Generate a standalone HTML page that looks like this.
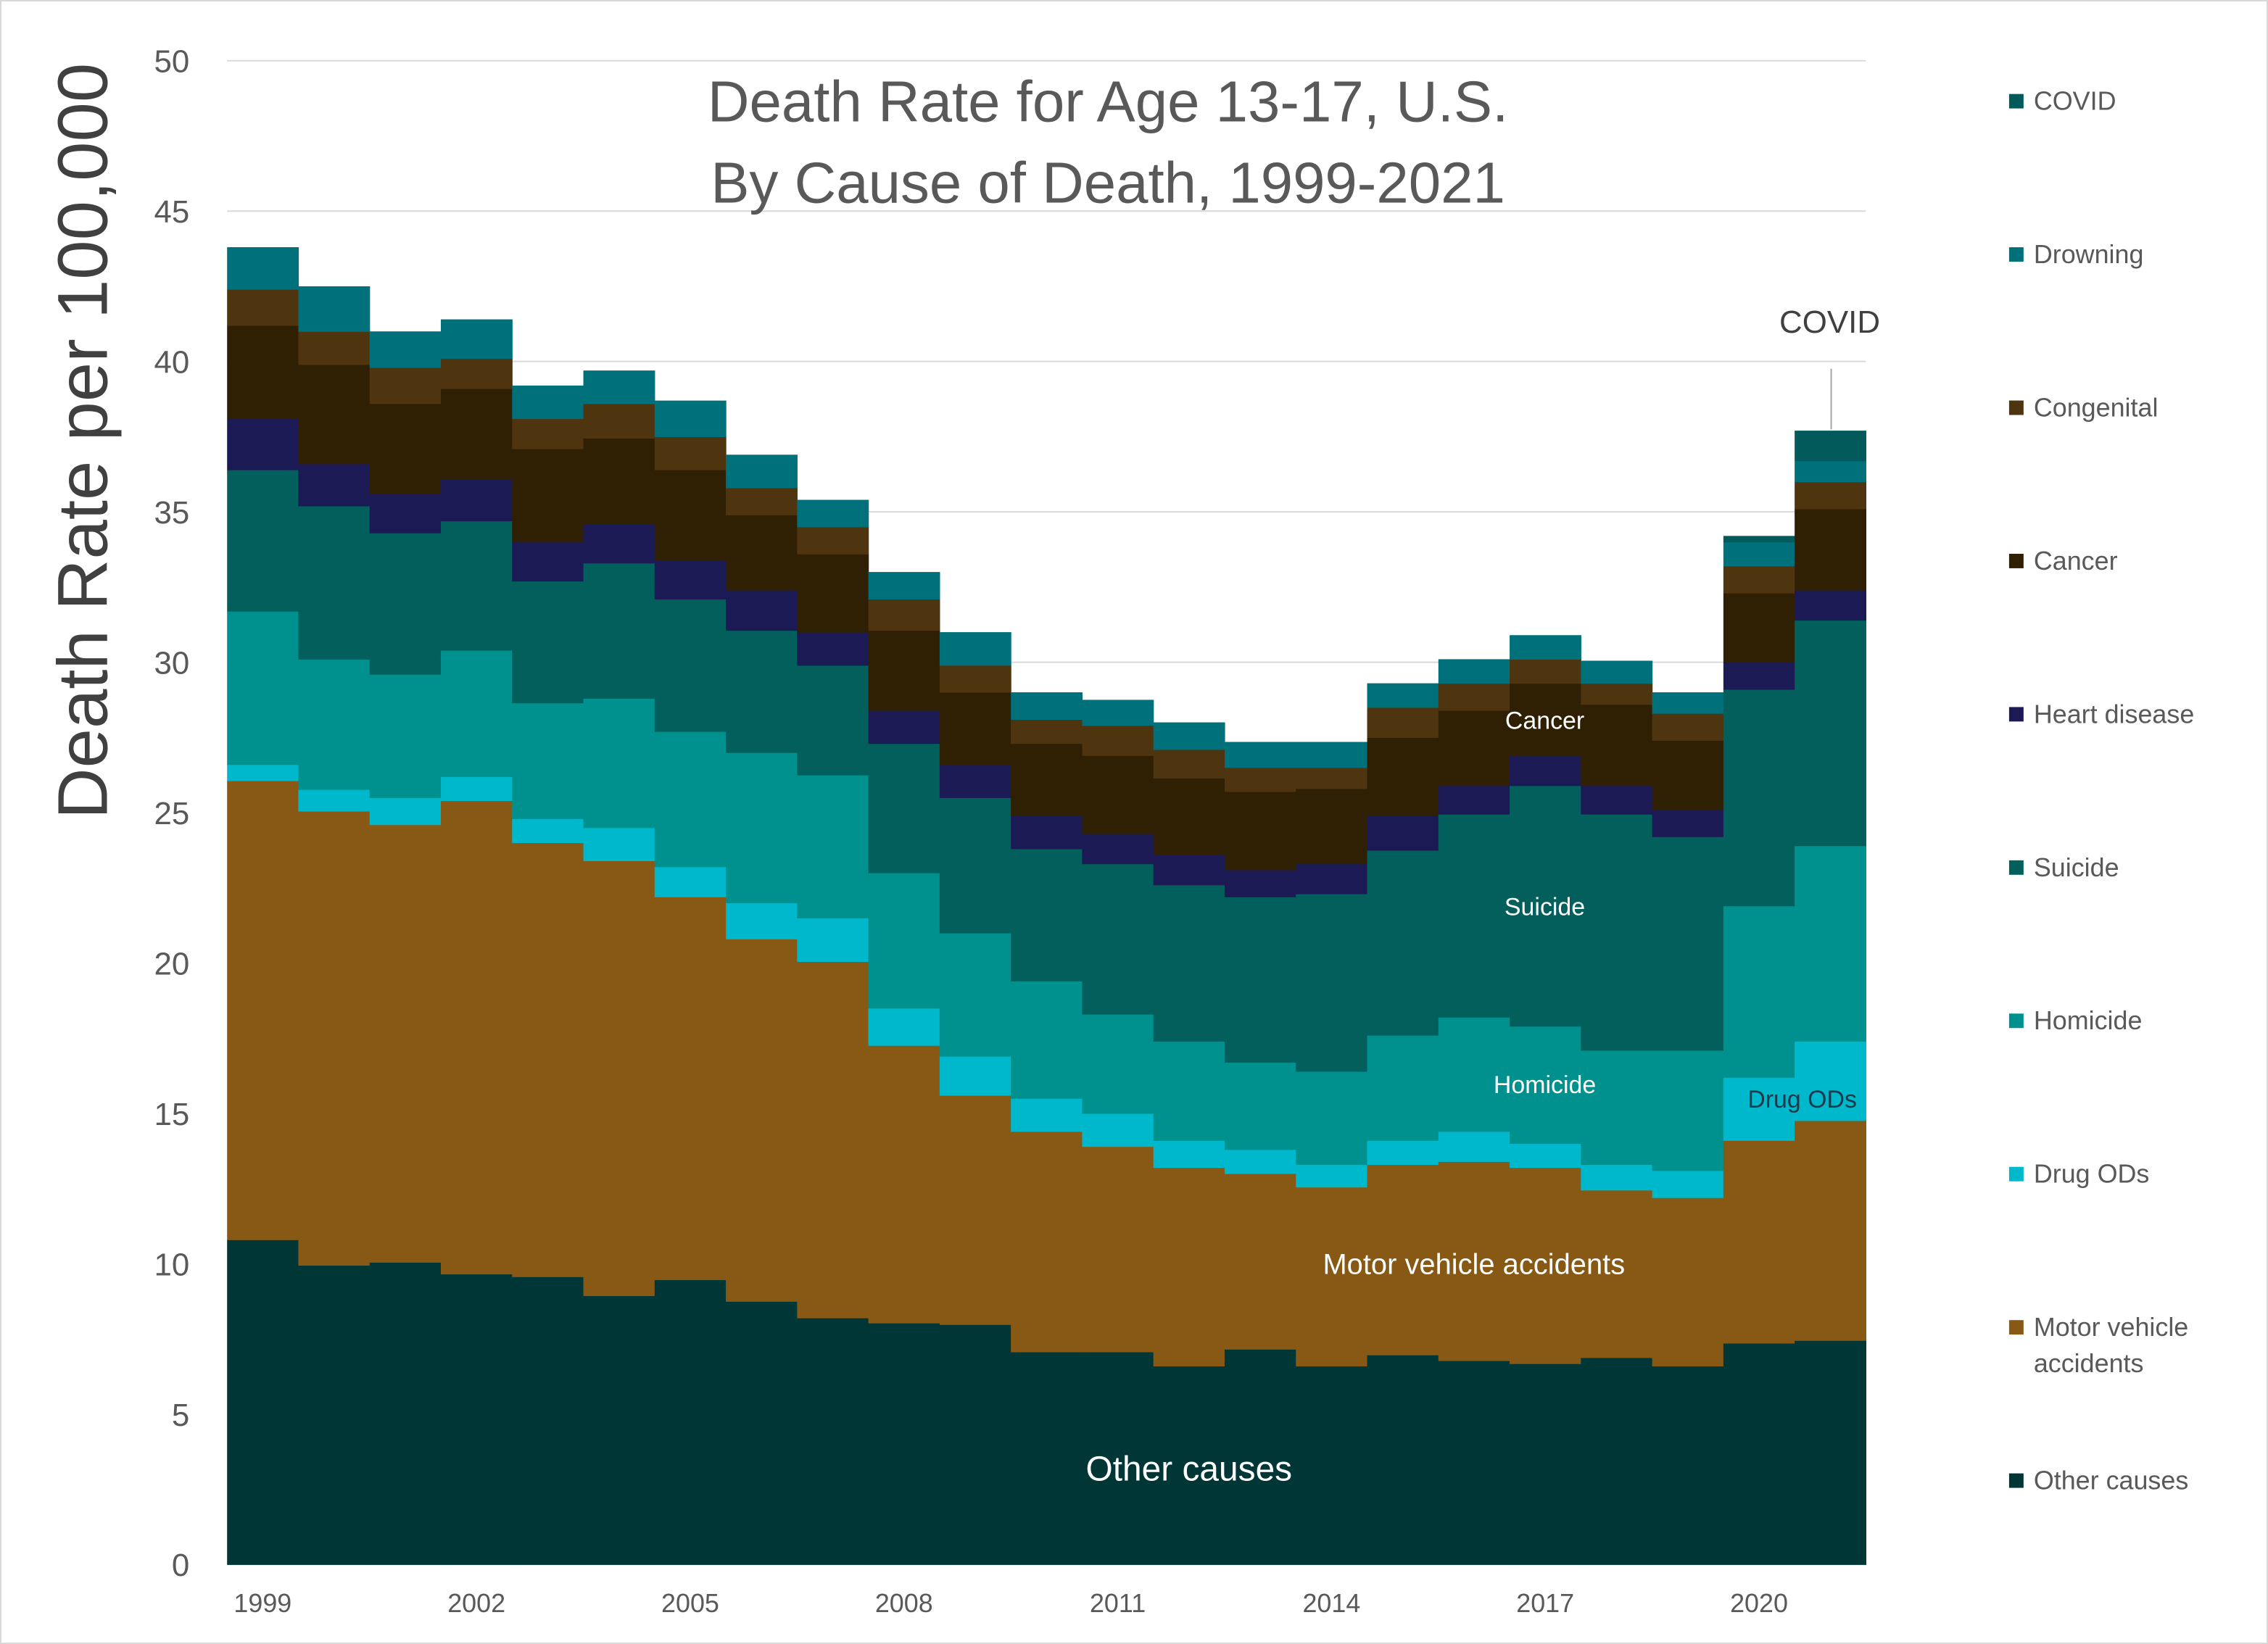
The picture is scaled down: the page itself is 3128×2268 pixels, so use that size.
<!DOCTYPE html>
<html><head><meta charset="utf-8"><style>
html,body{margin:0;padding:0;background:#fff}
svg{display:block}
text{font-family:"Liberation Sans",sans-serif}
</style></head><body>
<svg id="chart" width="3128" height="2268" viewBox="0 0 1568 1137" preserveAspectRatio="none" xmlns="http://www.w3.org/2000/svg">
<rect x="0.5" y="0.5" width="1567" height="1136" fill="#fff" stroke="#d9d9d9" stroke-width="1"/>
<g id="grid"></g>
<g id="bars"></g>
<g id="yticks"></g>
<g id="xticks"></g>
<g id="legend"></g>
<text x="766" y="84" text-anchor="middle" font-size="40" fill="#595959">Death Rate for Age 13-17, U.S.</text>
<text x="766" y="140" text-anchor="middle" font-size="40" fill="#595959">By Cause of Death, 1999-2021</text>
<text transform="translate(74,305) rotate(-90)" text-anchor="middle" font-size="49" fill="#404040">Death Rate per 100,000</text>
<text x="1068" y="504" text-anchor="middle" font-size="17" fill="#fff">Cancer</text>
<text x="1068" y="633" text-anchor="middle" font-size="17" fill="#fff">Suicide</text>
<text x="1068" y="756" text-anchor="middle" font-size="17" fill="#fff">Homicide</text>
<text x="1246" y="766" text-anchor="middle" font-size="17" fill="#1c3a4a">Drug ODs</text>
<text x="1019" y="881" text-anchor="middle" font-size="20" fill="#fff">Motor vehicle accidents</text>
<text x="822" y="1024" text-anchor="middle" font-size="24" fill="#fff">Other causes</text>
<text x="1265" y="230" text-anchor="middle" font-size="22" fill="#404040">COVID</text>
<line x1="1266" y1="255" x2="1266" y2="297" stroke="#a6a6a6" stroke-width="1"/>
</svg>
<script>
const years = [1999,2000,2001,2002,2003,2004,2005,2006,2007,2008,2009,2010,2011,2012,2013,2014,2015,2016,2017,2018,2019,2020,2021];
const xTickLabels = ["1999","2002","2005","2008","2011","2014","2017","2020"];
const yTickLabels = [0,5,10,15,20,25,30,35,40,45,50];
const otherCauses = [10.8,9.95,10.05,9.66,9.57,8.94,9.47,8.75,8.2,8.03,7.98,7.07,7.07,6.6,7.16,6.6,6.97,6.78,6.68,6.88,6.6,7.36,7.45];
const motorVehicle = [15.26,15.1,14.55,15.74,14.43,14.46,12.73,12.05,11.85,9.23,7.62,7.33,6.83,6.6,5.84,5.95,6.33,6.62,6.52,5.57,5.6,6.74,7.31];
const drugODs = [0.54,0.72,0.9,0.8,0.8,1.1,1.0,1.2,1.45,1.24,1.3,1.1,1.1,0.9,0.8,0.75,0.8,1.0,0.8,0.85,0.9,2.1,2.64];
const homicide = [5.1,4.33,4.1,4.2,3.85,4.3,4.5,5.0,4.75,4.5,4.1,3.9,3.3,3.3,2.9,3.1,3.5,3.8,3.9,3.8,4.0,5.7,6.5];
const suicide = [4.7,5.1,4.7,4.3,4.05,4.5,4.4,4.06,3.65,4.3,4.5,4.4,5.0,5.2,5.5,5.9,6.15,6.75,8.0,7.85,7.1,7.2,7.5];
const heartDisease = [1.7,1.4,1.3,1.4,1.3,1.3,1.3,1.34,1.1,1.1,1.1,1.1,1.0,1.0,0.9,1.0,1.15,0.95,1.0,0.95,0.9,0.9,1.0];
const cancer = [3.1,3.3,3.0,3.0,3.1,2.85,3.0,2.5,2.6,2.66,2.4,2.4,2.6,2.55,2.6,2.5,2.6,2.5,2.4,2.7,2.3,2.3,2.7];
const congenital = [1.2,1.1,1.2,1.0,1.0,1.15,1.1,0.9,0.9,1.04,0.9,0.8,1.0,0.95,0.8,0.7,1.0,0.9,0.8,0.7,0.9,0.9,0.9];
const drowning = [1.4,1.5,1.2,1.3,1.1,1.1,1.2,1.1,0.9,0.9,1.1,0.9,0.85,0.9,0.85,0.85,0.8,0.8,0.8,0.75,0.7,0.8,0.7];
const covid = [0,0,0,0,0,0,0,0,0,0,0,0,0,0,0,0,0,0,0,0,0,0.2,1.0];

const seriesList = [
  {name:"Other causes", key:"other-causes", vals:otherCauses, color:"#003636"},
  {name:"Motor vehicle accidents", key:"motor-vehicle", vals:motorVehicle, color:"#885915"},
  {name:"Drug ODs", key:"drug-ods", vals:drugODs, color:"#00b8cc"},
  {name:"Homicide", key:"homicide", vals:homicide, color:"#00918e"},
  {name:"Suicide", key:"suicide", vals:suicide, color:"#025f5c"},
  {name:"Heart disease", key:"heart-disease", vals:heartDisease, color:"#1b1a54"},
  {name:"Cancer", key:"cancer", vals:cancer, color:"#2f1f03"},
  {name:"Congenital", key:"congenital", vals:congenital, color:"#4f3410"},
  {name:"Drowning", key:"drowning", vals:drowning, color:"#00707a"},
  {name:"COVID", key:"covid", vals:covid, color:"#025a5a"}
];
const NS="http://www.w3.org/2000/svg";
const L=157, R=1290, Y0=1082, Y50=42;
const bw=(R-L)/years.length;
function xPos(i){return L+i*bw;}
function yPos(v){return Y0-(v/50)*(Y0-Y50);}
function mk(t,attrs,parent){const e=document.createElementNS(NS,t);for(const k in attrs)e.setAttribute(k,attrs[k]);parent.appendChild(e);return e;}

const grid=document.getElementById('grid'), yt=document.getElementById('yticks');
yTickLabels.forEach(v=>{
  const ln=mk('line',{x1:L,x2:R,y1:yPos(v),y2:yPos(v),stroke:'#d9d9d9','stroke-width':1},grid);
  
  
  const t=mk('text',{x:131,y:yPos(v)+8,'text-anchor':'end','font-size':22,fill:'#595959'},yt);
  t.textContent=v;
  
  
});
const bars=document.getElementById('bars');
years.forEach((yr,i)=>{
  let base=0;
  seriesList.forEach(s=>{
    const v=s.vals[i];
    if(v>0){
      const r=mk('rect',{x:xPos(i),y:yPos(base+v),width:bw+0.3,height:yPos(base)-yPos(base+v)+0.3,fill:s.color},bars);
      
      
    }
    base+=v;
  });
});
const xt=document.getElementById('xticks');
xTickLabels.forEach(lbl=>{
  const i=years.indexOf(+lbl);
  const t=mk('text',{x:xPos(i)+bw/2,y:1115,'text-anchor':'middle','font-size':18,fill:'#595959'},xt);
  t.textContent=lbl;
  
  
});
const lg=document.getElementById('legend');
const order=seriesList.slice().reverse();
order.forEach((s,j)=>{
  const y=70+j*106;
  const sq=mk('rect',{x:1389,y:y-5,width:10,height:10,fill:s.color},lg);
  
  
  const t=mk('text',{x:1406,y:y+6,'font-size':18,fill:'#595959'},lg);
  
  
  if(s.key==='motor-vehicle'){
    const a=mk('tspan',{x:1406},t);a.textContent='Motor vehicle';
    const b=mk('tspan',{x:1406,dy:25},t);b.textContent='accidents';
  } else t.textContent=s.name;
});
</script>
</body></html>
